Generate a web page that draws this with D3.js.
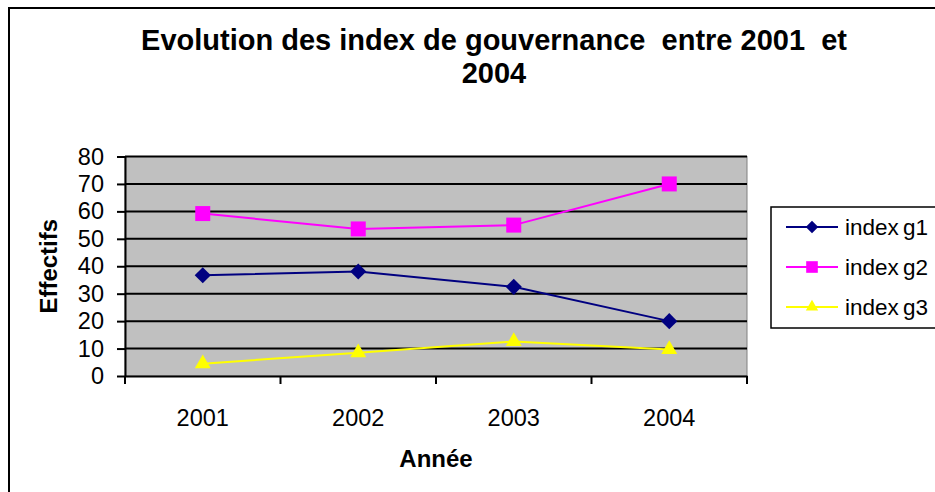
<!DOCTYPE html>
<html>
<head>
<meta charset="utf-8">
<script src="https://cdn.jsdelivr.net/npm/d3@7"></script>
<style>
  body { margin: 0; background: #fff; }
  text { font-family: "Liberation Sans", Arial, sans-serif; }
</style>
</head>
<body>
<div id="chart"></div>
<script>
// Evolution des index de gouvernance 2001-2004

var years = ["2001", "2002", "2003", "2004"];
var seriesNames = ["index g1", "index g2", "index g3"];
var g1 = [36.7, 38.1, 32.5, 20];
var g2 = [59.2, 53.6, 55, 70];
var g3 = [4.5, 8.5, 12.6, 9.7];
var yTicks = [0, 10, 20, 30, 40, 50, 60, 70, 80];

var svgWidth = 935;
var svgHeight = 492;

var margin = { top: 156.5, left: 125, right: 188, bottom: 116 };
var width = svgWidth - margin.left - margin.right;
var height = svgHeight - margin.top - margin.bottom;

var svg = d3.select("#chart")
  .append("svg")
  .attr("width", svgWidth)
  .attr("height", svgHeight);

// outer frame (runs off the right and bottom edges)
svg.append("rect")
  .attr("x", 9)
  .attr("y", 8)
  .attr("width", svgWidth + 20)
  .attr("height", svgHeight + 20)
  .attr("fill", "#fff")
  .attr("stroke", "#000")
  .attr("stroke-width", 2);

var chartGroup = svg.append("g")
  .attr("transform", `translate(${margin.left}, ${margin.top})`);

// scales
var xScale = d3.scaleBand()
  .domain(years)
  .range([0, width]);

var yScale = d3.scaleLinear()
  .domain([0, 80])
  .range([height, 0]);

// plot background
chartGroup.append("rect")
  .attr("width", width)
  .attr("height", height)
  .attr("fill", "#c0c0c0")
  .attr("stroke", "#808080")
  .attr("stroke-width", 1);

// gridlines
chartGroup.selectAll(".grid")
  .data(yTicks.filter(d => d > 0))
  .enter()
  .append("line")
  .attr("x1", 0)
  .attr("x2", width)
  .attr("y1", d => yScale(d))
  .attr("y2", d => yScale(d))
  .attr("stroke", "#000")
  .attr("stroke-width", 2);

// axes
var leftAxis = d3.axisLeft(yScale)
  .tickValues(yTicks)
  .tickSize(8)
  .tickSizeOuter(0)
  .tickPadding(13);

var yAxisG = chartGroup.append("g").call(leftAxis);
yAxisG.select(".domain").attr("stroke-width", 2);
yAxisG.selectAll(".tick line").attr("stroke-width", 2);
yAxisG.selectAll("text")
  .style("font-size", "23.5px")
  .attr("fill", "#000");

var bottomAxis = d3.axisBottom(xScale)
  .tickSize(0)
  .tickPadding(33);

var xAxisG = chartGroup.append("g")
  .attr("transform", `translate(0, ${height})`)
  .call(bottomAxis);
xAxisG.select(".domain").attr("stroke-width", 2);
xAxisG.selectAll("text")
  .style("font-size", "23.5px")
  .attr("fill", "#000");

// category separator ticks on x axis
chartGroup.selectAll(".xsep")
  .data(years.concat(["end"]))
  .enter()
  .append("line")
  .attr("x1", (d, i) => i * xScale.bandwidth())
  .attr("x2", (d, i) => i * xScale.bandwidth())
  .attr("y1", height)
  .attr("y2", height + 8)
  .attr("stroke", "#000")
  .attr("stroke-width", 2);

// series
var series = [
  { name: seriesNames[0], values: g1, color: "#000080", symbol: d3.symbolSquare, size: 130, rot: 45 },
  { name: seriesNames[1], values: g2, color: "#ff00ff", symbol: d3.symbolSquare, size: 225, rot: 0 },
  { name: seriesNames[2], values: g3, color: "#ffff00", symbol: d3.symbolTriangle, size: 110, rot: 0 }
];

var line = d3.line()
  .x((d, i) => xScale(years[i]) + xScale.bandwidth() / 2)
  .y(d => yScale(d));

series.forEach(function(s) {
  chartGroup.append("path")
    .datum(s.values)
    .attr("d", line)
    .attr("fill", "none")
    .attr("stroke", s.color)
    .attr("stroke-width", 2);

  chartGroup.selectAll(null)
    .data(s.values)
    .enter()
    .append("path")
    .attr("d", d3.symbol().type(s.symbol).size(s.size))
    .attr("transform", (d, i) => `translate(${xScale(years[i]) + xScale.bandwidth() / 2}, ${yScale(d)}) rotate(${s.rot})`)
    .attr("fill", s.color);
});

// title
var title = svg.append("text")
  .attr("x", 494)
  .attr("y", 50)
  .attr("text-anchor", "middle")
  .style("font-size", "29px")
  .style("font-weight", "bold")
  .style("white-space", "pre");
title.append("tspan").attr("x", 494).text("Evolution des index de gouvernance  entre 2001  et");
title.append("tspan").attr("x", 494).attr("dy", 33).text("2004");

// axis labels
svg.append("text")
  .attr("transform", `translate(57, ${margin.top + height / 2}) rotate(-90)`)
  .attr("text-anchor", "middle")
  .style("font-size", "24px")
  .style("font-weight", "bold")
  .text("Effectifs");

svg.append("text")
  .attr("x", margin.left + width / 2)
  .attr("y", 467)
  .attr("text-anchor", "middle")
  .style("font-size", "24px")
  .style("font-weight", "bold")
  .text("Année");

// legend
var legend = svg.append("g")
  .attr("transform", "translate(771, 207)");

legend.append("rect")
  .attr("width", 200)
  .attr("height", 121)
  .attr("fill", "#fff")
  .attr("stroke", "#000")
  .attr("stroke-width", 1.5);

series.forEach(function(s, i) {
  var y = 20 + i * 40;
  legend.append("line")
    .attr("x1", 15)
    .attr("x2", 67)
    .attr("y1", y)
    .attr("y2", y)
    .attr("stroke", s.color)
    .attr("stroke-width", 2);
  legend.append("path")
    .attr("d", d3.symbol().type(s.symbol).size(s.size * 0.6))
    .attr("transform", `translate(41, ${y}) rotate(${s.rot})`)
    .attr("fill", s.color);
  legend.append("text")
    .attr("x", 74)
    .attr("y", y + 8)
    .style("font-size", "22.5px")
    .style("word-spacing", "-2px")
    .text(s.name);
});
</script>
</body>
</html>
